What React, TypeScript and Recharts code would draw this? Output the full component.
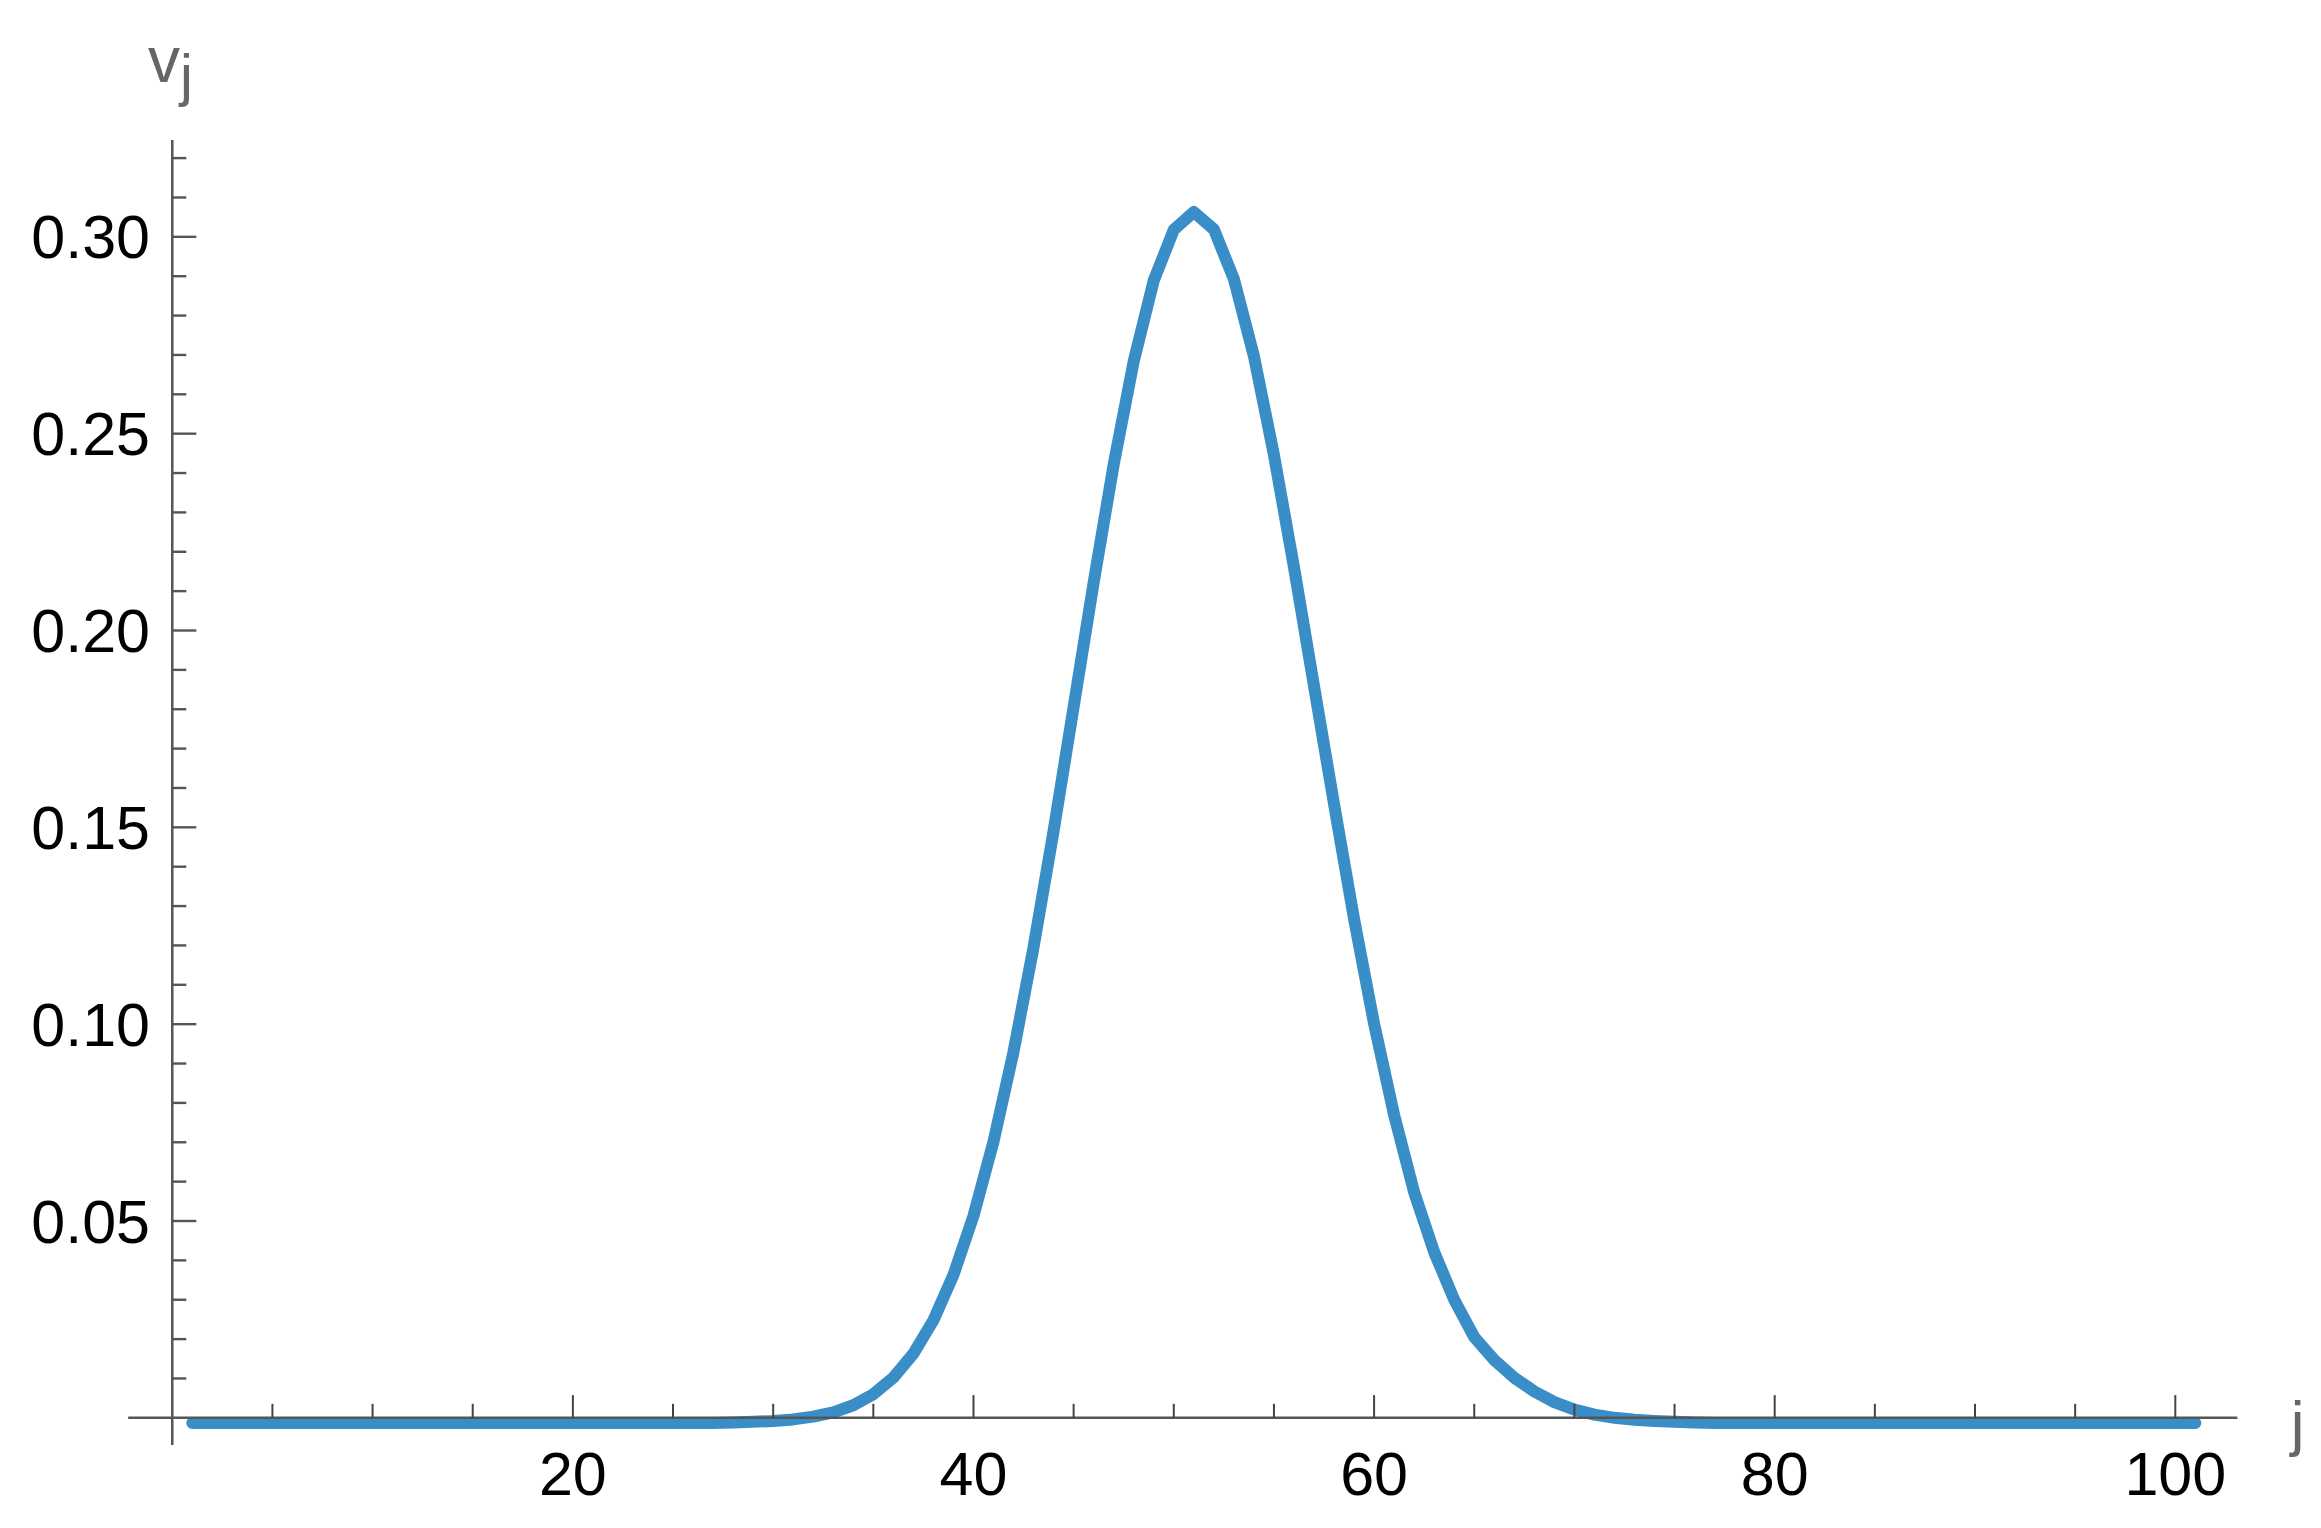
import React from 'react';
import { LineChart, Line, XAxis, YAxis, ReferenceLine } from 'recharts';

// categories: site index j
const jIndex: number[] = Array.from({ length: 101 }, (_, i) => i + 1);

// v_j values (j = 1 .. 101)
const vValues: number[] = [
  -0.0013, -0.0013, -0.0013, -0.0013, -0.0013, -0.0013, -0.0013, -0.0013, -0.0013, -0.0013,
  -0.0013, -0.0013, -0.0013, -0.0013, -0.0013, -0.0013, -0.0013, -0.0013, -0.0013, -0.0013,
  -0.0013, -0.0013, -0.0013, -0.0013, -0.0013, -0.0013, -0.0013, -0.0012, -0.0010, -0.0008,
  -0.0004, 0.0003, 0.0014, 0.0032, 0.0060, 0.0102, 0.0163, 0.0248, 0.0363, 0.0513,
  0.0702, 0.0930, 0.1196, 0.1491, 0.1806, 0.2122, 0.2422, 0.2684, 0.2889, 0.3018,
  0.3063, 0.3019, 0.2893, 0.2697, 0.2446, 0.2161, 0.1859, 0.1559, 0.1267, 0.1001,
  0.0769, 0.0573, 0.0421, 0.0300, 0.0205, 0.0147, 0.0102, 0.0067, 0.0040, 0.0021,
  0.0008, 0.0000, -0.0005, -0.0008, -0.0010, -0.0012, -0.0013, -0.0013, -0.0013, -0.0013,
  -0.0013, -0.0013, -0.0013, -0.0013, -0.0013, -0.0013, -0.0013, -0.0013, -0.0013, -0.0013,
  -0.0013, -0.0013, -0.0013, -0.0013, -0.0013, -0.0013, -0.0013, -0.0013, -0.0013, -0.0013,
  -0.0013,
];

const xMajorTicks: number[] = [20, 40, 60, 80, 100];
const xMinorTicks: number[] = [5, 10, 15, 25, 30, 35, 45, 50, 55, 65, 70, 75, 85, 90, 95];
const yMajorTicks: number[] = [0.05, 0.1, 0.15, 0.2, 0.25, 0.3];
const yMinorTicks: number[] = [
  0.01, 0.02, 0.03, 0.04, 0.06, 0.07, 0.08, 0.09, 0.11, 0.12, 0.13, 0.14, 0.16, 0.17,
  0.18, 0.19, 0.21, 0.22, 0.23, 0.24, 0.26, 0.27, 0.28, 0.29, 0.31, 0.32,
];
const xDomain: [number, number] = [-2.2, 103.1];
const yDomain: [number, number] = [-0.0069, 0.3246];

const xAxisLabel = 'j';
const yAxisLabelMain = 'v';
const yAxisLabelSub = 'j';

const data = jIndex.map((j, i) => ({ j, v: vValues[i] }));

const FONT = '"Liberation Sans", Arial, Helvetica, sans-serif';
const AXIS_COLOR = '#555555';
const TICK_COLOR = '#444444';
const LINE_COLOR = '#3a8ec7';

// tick lengths expressed in data units of the perpendicular axis
const X_TICK_MAJOR = 0.00577;
const X_TICK_MINOR = 0.00356;
const Y_TICK_MAJOR = 1.2;
const Y_TICK_MINOR = 0.7;

const W = 2305;
const H = 1512;

export default function App() {
  return (
    <div style={{ position: 'relative', width: W, height: H, background: '#fff' }}>
      <LineChart
        width={W}
        height={H}
        data={data}
        margin={{ top: 132, right: 75.6, bottom: 5, left: 0.2 }}
      >
        <XAxis
          dataKey="j"
          type="number"
          domain={xDomain}
          allowDataOverflow
          ticks={xMajorTicks}
          interval={0}
          axisLine={false}
          tickLine={false}
          tickSize={0}
          tickMargin={7}
          height={70}
          tick={{ fill: '#000', fontSize: 61, fontFamily: FONT }}
        />
        <YAxis
          type="number"
          domain={yDomain}
          allowDataOverflow
          ticks={yMajorTicks}
          interval={0}
          tickFormatter={(v: number) => v.toFixed(2)}
          axisLine={false}
          tickLine={false}
          tickSize={0}
          tickMargin={-21.8}
          width={120}
          tick={{ fill: '#000', fontSize: 61, fontFamily: FONT }}
        />
        <Line
          type="linear"
          dataKey="v"
          stroke={LINE_COLOR}
          strokeWidth={12}
          strokeLinejoin="round"
          strokeLinecap="round"
          dot={false}
          activeDot={false}
          isAnimationActive={false}
        />
        <ReferenceLine y={0} stroke={AXIS_COLOR} strokeWidth={2.5} />
        <ReferenceLine x={0} stroke={AXIS_COLOR} strokeWidth={2.5} />
        {yMajorTicks.map((t) => (
          <ReferenceLine
            key={`ym${t}`}
            segment={[{ x: 0, y: t }, { x: Y_TICK_MAJOR, y: t }]}
            stroke={AXIS_COLOR}
            strokeWidth={2.4}
          />
        ))}
        {yMinorTicks.map((t) => (
          <ReferenceLine
            key={`yn${t}`}
            segment={[{ x: 0, y: t }, { x: Y_TICK_MINOR, y: t }]}
            stroke={AXIS_COLOR}
            strokeWidth={2.4}
          />
        ))}
        {xMajorTicks.map((t) => (
          <ReferenceLine
            key={`xm${t}`}
            segment={[{ x: t, y: 0 }, { x: t, y: X_TICK_MAJOR }]}
            stroke={TICK_COLOR}
            strokeWidth={2}
          />
        ))}
        {xMinorTicks.map((t) => (
          <ReferenceLine
            key={`xn${t}`}
            segment={[{ x: t, y: 0 }, { x: t, y: X_TICK_MINOR }]}
            stroke={TICK_COLOR}
            strokeWidth={2}
          />
        ))}
      </LineChart>
      <svg
        width={W}
        height={H}
        style={{ position: 'absolute', left: 0, top: 0, pointerEvents: 'none' }}
      >
        <text x={140} y={74} fontFamily={FONT} fontSize={64} fill="#666">
          {yAxisLabelMain}
          <tspan dy={13} fontSize={58}>{yAxisLabelSub}</tspan>
        </text>
        <text x={2282.8} y={1436} fontFamily={FONT} fontSize={62} fill="#666">
          {xAxisLabel}
        </text>
      </svg>
    </div>
  );
}
